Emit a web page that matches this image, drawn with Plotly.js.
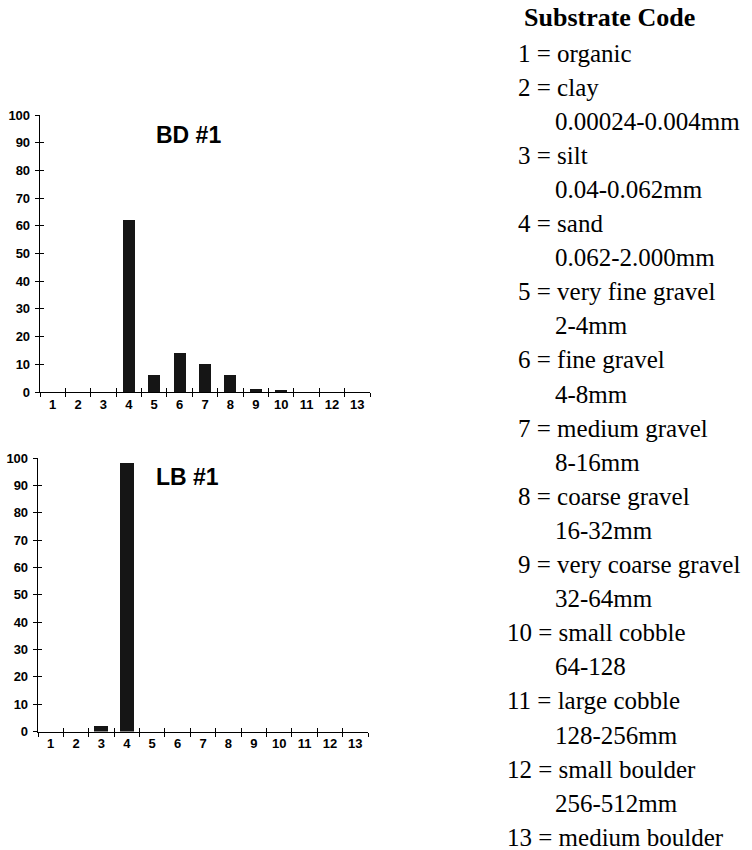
<!DOCTYPE html>
<html>
<head>
<meta charset="utf-8">
<script src="https://cdn.plot.ly/plotly-3.0.1.min.js"></script>
<style>html,body{margin:0;padding:0;background:#fff;}#chart{width:752px;height:850px;}</style>
</head>
<body>
<div id="chart"></div>
<script>
// ---- data ----
const categories = ["1","2","3","4","5","6","7","8","9","10","11","12","13"];
const bd1Values = [0, 0, 0, 62, 6, 14, 10, 6, 1, 0.8, 0, 0, 0];
const lb1Values = [0, 0, 2, 98, 0, 0, 0, 0, 0, 0, 0, 0, 0];
const yTickVals = [0,10,20,30,40,50,60,70,80,90,100];
const panelTitles = ["BD #1", "LB #1"];
const legendTitle = "Substrate Code";
const legendLines = [
  "1 = organic", "2 = clay", "0.00024-0.004mm", "3 = silt", "0.04-0.062mm",
  "4 = sand", "0.062-2.000mm", "5 = very fine gravel", "2-4mm",
  "6 = fine gravel", "4-8mm", "7 = medium gravel", "8-16mm",
  "8 = coarse gravel", "16-32mm", "9 = very coarse gravel", "32-64mm",
  "10 = small cobble", "64-128", "11 = large cobble", "128-256mm",
  "12 = small boulder", "256-512mm", "13 = medium boulder"
];

// ---- layout helpers ----
const W = 752, H = 850;
const px = x => x / W;
const py = y => 1 - y / H;
const tickFont = {family: "Liberation Sans, Arial, sans-serif", size: 13, color: "#000", weight: "bold"};
const barColor = "#151515";

const traces = [
  {type: "bar", x: categories, y: bd1Values, xaxis: "x", yaxis: "y", width: 0.48,
   marker: {color: barColor, line: {width: 0}}, hoverinfo: "x+y"},
  {type: "bar", x: categories, y: lb1Values, xaxis: "x2", yaxis: "y2", width: 0.55,
   marker: {color: barColor, line: {width: 0}}, hoverinfo: "x+y"},
  // invisible companions so the overlaid tick axes (inner half of the crossing ticks) get drawn
  {type: "scatter", mode: "markers", x: categories, y: bd1Values, xaxis: "x3", yaxis: "y",
   marker: {opacity: 0}, hoverinfo: "skip"},
  {type: "scatter", mode: "markers", x: categories, y: bd1Values, xaxis: "x", yaxis: "y3",
   marker: {opacity: 0}, hoverinfo: "skip"},
  {type: "scatter", mode: "markers", x: categories, y: lb1Values, xaxis: "x4", yaxis: "y2",
   marker: {opacity: 0}, hoverinfo: "skip"},
  {type: "scatter", mode: "markers", x: categories, y: lb1Values, xaxis: "x2", yaxis: "y4",
   marker: {opacity: 0}, hoverinfo: "skip"}
];

function mainX(domain, anchor) {
  return {domain: domain, anchor: anchor, type: "category", tickson: "boundaries",
    categoryarray: categories, categoryorder: "array", range: [-0.5, 12.5],
    ticks: "outside", ticklen: 4, tickwidth: 1, tickcolor: "#000",
    showline: true, linecolor: "#000", linewidth: 1.3, showgrid: false, zeroline: false,
    tickfont: tickFont, ticklabelstandoff: 0, fixedrange: true};
}
function overX(over, anchor) {
  return {overlaying: over, anchor: anchor, type: "category", tickson: "boundaries",
    categoryarray: categories, categoryorder: "array",
    ticks: "inside", ticklen: 4, tickwidth: 1, tickcolor: "#000",
    showticklabels: false, showline: false, showgrid: false, zeroline: false,
    range: [-0.5, 12.5], fixedrange: true};
}
function mainY(domain, anchor) {
  return {domain: domain, anchor: anchor, range: [0, 100], tickmode: "array", tickvals: yTickVals,
    ticks: "outside", ticklen: 4, tickwidth: 1, tickcolor: "#000",
    showline: true, linecolor: "#000", linewidth: 1.3, showgrid: false, zeroline: false,
    tickfont: tickFont, ticklabelstandoff: 2, fixedrange: true};
}
function overY(over, anchor) {
  return {overlaying: over, anchor: anchor, range: [0, 100], tickmode: "array", tickvals: yTickVals,
    ticks: "inside", ticklen: 4, tickwidth: 1, tickcolor: "#000",
    showticklabels: false, showline: false, showgrid: false, zeroline: false, fixedrange: true};
}

const annotations = [];
annotations.push({xref: "paper", yref: "paper", x: px(188), y: py(135), text: "<b>" + panelTitles[0] + "</b>",
  showarrow: false, xanchor: "center", yanchor: "middle",
  font: {family: "Liberation Sans, Arial, sans-serif", size: 23, color: "#000"}});
annotations.push({xref: "paper", yref: "paper", x: px(187), y: py(477), text: "<b>" + panelTitles[1] + "</b>",
  showarrow: false, xanchor: "center", yanchor: "middle",
  font: {family: "Liberation Sans, Arial, sans-serif", size: 23, color: "#000"}});
annotations.push({xref: "paper", yref: "paper", x: px(522), y: py(18), text: "<b>" + legendTitle + "</b>",
  showarrow: false, xanchor: "left", yanchor: "middle",
  font: {family: "Liberation Serif, Times New Roman, serif", size: 26, color: "#000"}});
legendLines.forEach((t, i) => {
  const isMain = t.indexOf("=") >= 0;
  const twoDigit = isMain && /^\d\d/.test(t);
  const x = isMain ? (twoDigit ? 505 : 516) : 553;
  annotations.push({xref: "paper", yref: "paper", x: px(x), y: py(53 + i * 34.1), text: t,
    showarrow: false, xanchor: "left", yanchor: "middle",
    font: {family: "Liberation Serif, Times New Roman, serif", size: 25, color: "#000"}});
});

const layout = {
  width: W, height: H, margin: {l: 0, r: 0, t: 0, b: 0},
  paper_bgcolor: "#fff", plot_bgcolor: "rgba(0,0,0,0)", showlegend: false, bargap: 0,
  xaxis: mainX([px(40), px(370)], "y"),
  yaxis: mainY([py(392), py(115)], "x"),
  xaxis3: overX("x", "y"),
  yaxis3: overY("y", "x"),
  xaxis2: mainX([px(38), px(368)], "y2"),
  yaxis2: mainY([py(731.5), py(458)], "x2"),
  xaxis4: overX("x2", "y2"),
  yaxis4: overY("y2", "x2"),
  annotations: annotations
};

Plotly.newPlot("chart", traces, layout, {staticPlot: true, displayModeBar: false});
</script>
</body>
</html>
